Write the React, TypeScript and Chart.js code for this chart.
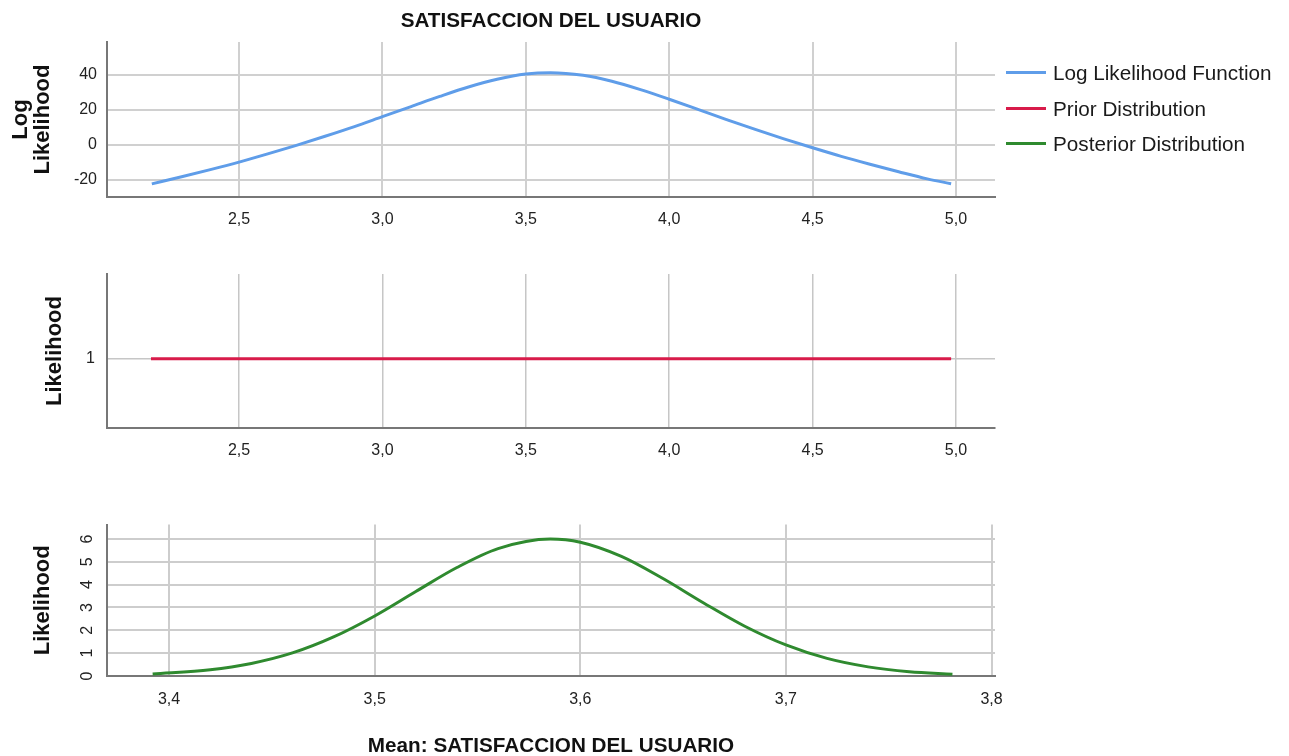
import React, { useEffect, useRef } from 'react';
import { Chart, registerables } from 'chart.js';

Chart.register(...registerables);

// ---------- text ----------
const TITLE = 'SATISFACCION DEL USUARIO';
const X_AXIS_TITLE = 'Mean: SATISFACCION DEL USUARIO';
const SERIES_NAMES = ['Log Likelihood Function', 'Prior Distribution', 'Posterior Distribution'];
const SERIES_COLORS = ['#5f9de9', '#d81b4a', '#2f8a2f'];
const Y_TITLES: (string | string[])[] = [['Log', 'Likelihood'], 'Likelihood', 'Likelihood'];

// ---------- data ----------
const logLikX = [2.196, 2.3, 2.4, 2.5, 2.6, 2.7, 2.8, 2.9, 3.0, 3.1, 3.2, 3.3, 3.4, 3.5, 3.586, 3.7, 3.8, 3.9, 4.0, 4.1, 4.2, 4.3, 4.4, 4.5, 4.6, 4.7, 4.8, 4.9, 4.983];
const logLikY = [-22.4, -18.3, -14.2, -9.9, -5.2, -0.3, 4.9, 10.3, 16.1, 21.9, 27.7, 33.1, 37.5, 40.5, 41.3, 39.8, 36.4, 31.6, 26.1, 20.3, 14.4, 8.8, 3.4, -1.7, -6.6, -11.1, -15.4, -19.5, -22.3];

const priorX = [2.193, 4.983];
const priorY = [1, 1];

const postX = [3.392, 3.42, 3.44, 3.46, 3.48, 3.5, 3.52, 3.54, 3.56, 3.5854, 3.6, 3.62, 3.64, 3.66, 3.68, 3.7, 3.72, 3.74, 3.76, 3.781];
const postY = [0.09, 0.27, 0.55, 1.01, 1.71, 2.63, 3.7, 4.75, 5.58, 6.0, 5.86, 5.24, 4.28, 3.2, 2.18, 1.36, 0.77, 0.4, 0.19, 0.08];

// ---------- ticks ----------
const meanTicks = [2.5, 3.0, 3.5, 4.0, 4.5, 5.0];
const meanTickLabels = ['2,5', '3,0', '3,5', '4,0', '4,5', '5,0'];
const logLikTicks = [-20, 0, 20, 40];
const logLikTickLabels = ['-20', '0', '20', '40'];
const priorTicks = [1];
const priorTickLabels = ['1'];
const postXTicks = [3.4, 3.5, 3.6, 3.7, 3.8];
const postXTickLabels = ['3,4', '3,5', '3,6', '3,7', '3,8'];
const postYTicks = [0, 1, 2, 3, 4, 5, 6];
const postYTickLabels = ['0', '1', '2', '3', '4', '5', '6'];

const FONT = "'Liberation Sans', Arial, Helvetica, sans-serif";

type PanelSpec = {
  top: number;
  w: number;
  h: number;
  padTop: number;
  xAxisH: number;
  xs: number[];
  ys: number[];
  name: string;
  color: string;
  xMin: number;
  xMax: number;
  yMin: number;
  yMax: number;
  xTicks: number[];
  xLabels: string[];
  yTicks: number[];
  yLabels: string[];
  yTitle: string | string[];
  yTitlePad: number;
  yTitleLH: number;
  yTickPad: number;
  xTickPad: number;
  gridW: number;
  gridColor: string;
  rotateY: boolean;
  mainTitle: boolean;
  xTitle: boolean;
};

function buildConfig(p: PanelSpec): any {
  return {
    type: 'line',
    data: {
      datasets: [
        {
          label: p.name,
          data: p.xs.map((x, i) => ({ x, y: p.ys[i] })),
          borderColor: p.color,
          backgroundColor: p.color,
          borderWidth: 3,
          pointRadius: 0,
          cubicInterpolationMode: 'monotone',
          fill: false,
        },
      ],
    },
    options: {
      animation: false,
      responsive: false,
      events: [],
      layout: { padding: { left: 0, right: 25, top: p.padTop, bottom: 0 } },
      plugins: {
        legend: { display: false },
        tooltip: { enabled: false },
        title: p.mainTitle
          ? {
              display: true,
              text: TITLE,
              fullSize: false,
              color: '#111',
              font: { family: FONT, size: 20.7, weight: 'bold', lineHeight: 1.2 },
              padding: { top: 8.6, bottom: 8.6 },
            }
          : { display: false },
      },
      scales: {
        x: {
          type: 'linear',
          min: p.xMin,
          max: p.xMax,
          afterBuildTicks: (s: any) => {
            s.ticks = p.xTicks.map((v) => ({ value: v }));
          },
          afterFit: (s: any) => {
            s.height = p.xAxisH;
          },
          ticks: {
            autoSkip: false,
            maxRotation: 0,
            minRotation: 0,
            padding: p.xTickPad,
            color: '#222',
            font: { family: FONT, size: 16 },
            callback: (_v: any, i: number) => p.xLabels[i],
          },
          grid: { color: p.gridColor, lineWidth: p.gridW, drawTicks: false },
          border: { display: true, color: '#777', width: 2 },
          title: p.xTitle
            ? {
                display: true,
                text: X_AXIS_TITLE,
                color: '#111',
                font: { family: FONT, size: 20.7, weight: 'bold', lineHeight: 1.2 },
                padding: { top: 0, bottom: -2.5 },
              }
            : { display: false },
        },
        y: {
          type: 'linear',
          min: p.yMin,
          max: p.yMax,
          afterBuildTicks: (s: any) => {
            s.ticks = p.yTicks.map((v) => ({ value: v }));
          },
          afterFit: (s: any) => {
            s.width = 107;
          },
          ticks: {
            autoSkip: false,
            padding: p.yTickPad,
            color: '#222',
            font: { family: FONT, size: 16 },
            minRotation: p.rotateY ? 90 : 0,
            maxRotation: p.rotateY ? 90 : 0,
            crossAlign: p.rotateY ? 'center' : 'near',
            callback: (_v: any, i: number) => p.yLabels[i],
          },
          grid: { color: p.gridColor, lineWidth: p.gridW, drawTicks: false },
          border: { display: true, color: '#777', width: 2 },
          title: {
            display: true,
            text: p.yTitle,
            color: '#111',
            font: { family: FONT, size: 22, weight: 'bold', lineHeight: p.yTitleLH },
            padding: { top: p.yTitlePad, bottom: 0 },
          },
        },
      },
    },
  };
}

const PANELS: PanelSpec[] = [
  {
    top: 0, w: 1020, h: 237, padTop: 0, xAxisH: 40,
    xs: logLikX, ys: logLikY, name: SERIES_NAMES[0], color: SERIES_COLORS[0],
    xMin: 2.0397, xMax: 5.136, yMin: -29.9, yMax: 58.86,
    xTicks: meanTicks, xLabels: meanTickLabels, yTicks: logLikTicks, yLabels: logLikTickLabels,
    yTitle: Y_TITLES[0], yTitlePad: 9.5, yTitleLH: 1.0, yTickPad: 10, xTickPad: 13,
    gridW: 2, gridColor: '#d0d0d0', rotateY: false, mainTitle: true, xTitle: false,
  },
  {
    top: 250, w: 1020, h: 218, padTop: 24, xAxisH: 40,
    xs: priorX, ys: priorY, name: SERIES_NAMES[1], color: SERIES_COLORS[1],
    xMin: 2.0397, xMax: 5.136, yMin: 0.55, yMax: 1.55,
    xTicks: meanTicks, xLabels: meanTickLabels, yTicks: priorTicks, yLabels: priorTickLabels,
    yTitle: Y_TITLES[1], yTitlePad: 44, yTitleLH: 1, yTickPad: 12, xTickPad: 13,
    gridW: 1.5, gridColor: '#c6c6c6', rotateY: false, mainTitle: false, xTitle: false,
  },
  {
    top: 500, w: 1020, h: 256, padTop: 22, xAxisH: 80,
    xs: postX, ys: postY, name: SERIES_NAMES[2], color: SERIES_COLORS[2],
    xMin: 3.3698, xMax: 3.8017, yMin: 0, yMax: 6.63,
    xTicks: postXTicks, xLabels: postXTickLabels, yTicks: postYTicks, yLabels: postYTickLabels,
    yTitle: Y_TITLES[2], yTitlePad: 32, yTitleLH: 1, yTickPad: 15, xTickPad: 14,
    gridW: 2, gridColor: '#cdcdcd', rotateY: true, mainTitle: false, xTitle: true,
  },
];

function Panel({ spec }: { spec: PanelSpec }) {
  const ref = useRef<HTMLCanvasElement>(null);
  useEffect(() => {
    const chart = new Chart(ref.current as HTMLCanvasElement, buildConfig(spec));
    return () => chart.destroy();
  }, [spec]);
  return (
    <canvas
      ref={ref}
      width={spec.w}
      height={spec.h}
      style={{ position: 'absolute', left: 0, top: spec.top, width: spec.w, height: spec.h }}
    />
  );
}

function Legend() {
  return (
    <div style={{ position: 'absolute', left: 1006, top: 55, fontFamily: FONT }}>
      {SERIES_NAMES.map((n, i) => (
        <div
          key={n}
          style={{ display: 'flex', alignItems: 'center', height: 35.5, fontSize: 20.7, color: '#1a1a1a', lineHeight: '21px' }}
        >
          <span style={{ display: 'inline-block', width: 40, height: 3, background: SERIES_COLORS[i], marginRight: 7 }} />
          <span>{n}</span>
        </div>
      ))}
    </div>
  );
}

export default function App() {
  return (
    <div
      style={{ position: 'absolute', left: 0, top: 0, width: 1289, height: 756, background: '#fff', overflow: 'hidden' }}
    >
      {PANELS.map((p, i) => (
        <Panel key={i} spec={p} />
      ))}
      <Legend />
    </div>
  );
}
